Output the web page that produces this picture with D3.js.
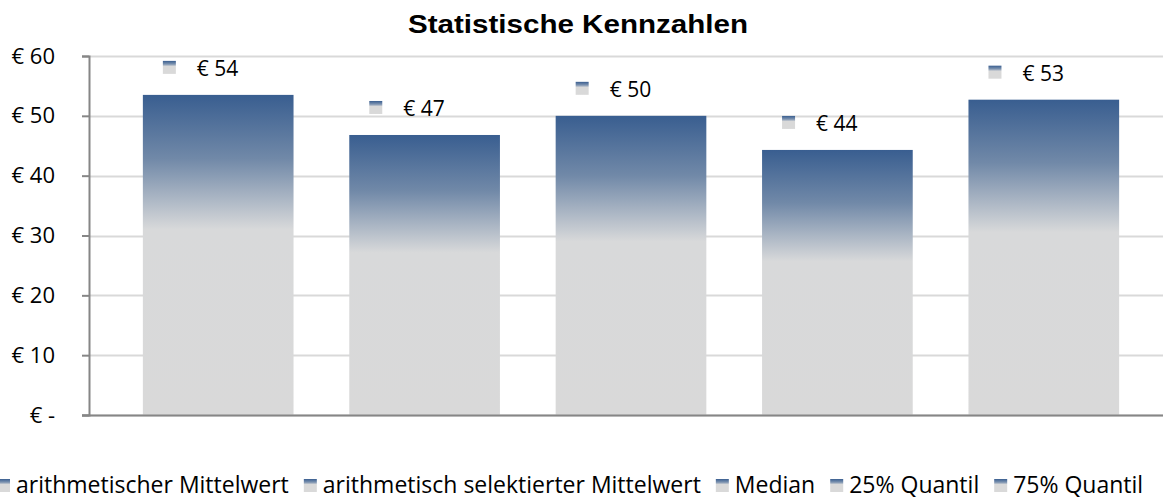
<!DOCTYPE html>
<html>
<head>
<meta charset="utf-8">
<script src="https://cdn.jsdelivr.net/npm/d3@7"></script>
<style>
  body { margin: 0; background: #fff; overflow: hidden; }
  text { font-family: "Open Sans", sans-serif; fill: #000; }
  text.title { font-family: "Liberation Sans", Arial, sans-serif; }
</style>
</head>
<body>
<div id="chart"></div>
<script>
var width = 1163;
var height = 499;

// data
var series = ["arithmetischer Mittelwert", "arithmetisch selektierter Mittelwert", "Median", "25% Quantil", "75% Quantil"];
var values = [53.5, 46.8, 50.0, 44.3, 52.7];
var labels = ["€ 54", "€ 47", "€ 50", "€ 44", "€ 53"];
var yTicks = [0, 10, 20, 30, 40, 50, 60];
var yTickLabels = ["€ -", "€ 10", "€ 20", "€ 30", "€ 40", "€ 50", "€ 60"];

var margin = {top: 56, left: 89, bottom: 84};

var svg = d3.select("#chart")
    .append("svg")
    .attr("width", width)
    .attr("height", height);

var defs = svg.append("defs");
var grad = defs.append("linearGradient")
    .attr("id", "barGrad")
    .attr("x1", 0).attr("y1", 0).attr("x2", 0).attr("y2", 1);
grad.append("stop").attr("offset", "0").attr("stop-color", "#395e90");
grad.append("stop").attr("offset", "0.2").attr("stop-color", "#7189a8");
grad.append("stop").attr("offset", "0.42").attr("stop-color", "#d8d9da");
grad.append("stop").attr("offset", "1").attr("stop-color", "#d9d9d9");

var keyGrad = defs.append("linearGradient")
    .attr("id", "keyGrad")
    .attr("x1", 0).attr("y1", 0).attr("x2", 0).attr("y2", 1);
keyGrad.append("stop").attr("offset", "0").attr("stop-color", "#395e90");
keyGrad.append("stop").attr("offset", "0.25").attr("stop-color", "#7d93b0");
keyGrad.append("stop").attr("offset", "0.42").attr("stop-color", "#d9d9d9");
keyGrad.append("stop").attr("offset", "1").attr("stop-color", "#d9d9d9");

var y = d3.scaleLinear()
    .domain([0, 60])
    .range([height - margin.bottom, margin.top]);

var x = d3.scaleBand()
    .domain(series)
    .range([115, 1147])
    .paddingInner(0.27)
    .paddingOuter(0.135);

// gridlines
svg.append("g")
    .selectAll("line")
    .data(yTicks)
    .enter().append("line")
      .attr("x1", margin.left)
      .attr("x2", width)
      .attr("y1", function(d) { return Math.round(y(d)) + 0.5; })
      .attr("y2", function(d) { return Math.round(y(d)) + 0.5; })
      .attr("stroke", "#d9d9d9")
      .attr("stroke-width", 2);

// y axis
var yAxis = d3.axisLeft(y)
    .tickValues(yTicks)
    .tickSize(7)
    .tickPadding(27)
    .tickFormat(function(d, i) { return yTickLabels[i]; });

var gy = svg.append("g")
    .attr("transform", "translate(" + margin.left + ",0)")
    .call(yAxis);
gy.select(".domain").attr("stroke", "#868686").attr("stroke-width", 2);
gy.selectAll(".tick line").attr("stroke", "#868686").attr("stroke-width", 2);
gy.selectAll(".tick text")
    .attr("font-size", 22)
    .attr("font-family", "Open Sans, sans-serif")
    .attr("fill", "#000");

// bars
svg.append("g")
    .selectAll("rect")
    .data(values)
    .enter().append("rect")
      .attr("x", function(d, i) { return x(series[i]); })
      .attr("y", function(d) { return y(d); })
      .attr("width", x.bandwidth())
      .attr("height", function(d) { return y(0) - y(d); })
      .attr("fill", "url(#barGrad)");

// baseline over bars
svg.append("line")
    .attr("x1", margin.left - 7)
    .attr("x2", width)
    .attr("y1", y(0) + 0.5)
    .attr("y2", y(0) + 0.5)
    .attr("stroke", "#868686")
    .attr("stroke-width", 2);

// data labels with legend key
var lab = svg.append("g")
    .selectAll("g")
    .data(values)
    .enter().append("g")
      .attr("transform", function(d, i) { return "translate(" + (x(series[i]) + 20) + "," + (y(d) - 27) + ")"; });

lab.append("rect")
    .attr("x", 0)
    .attr("y", -7)
    .attr("width", 13)
    .attr("height", 13)
    .attr("fill", "url(#keyGrad)");

lab.append("text")
    .attr("x", 34)
    .attr("y", 8)
    .attr("font-size", 21)
    .text(function(d, i) { return labels[i]; });

// title
svg.append("text")
    .attr("class", "title")
    .attr("x", 408)
    .attr("y", 33)
    .attr("font-size", 25)
    .attr("font-weight", "bold")
    .attr("textLength", 340)
    .attr("lengthAdjust", "spacingAndGlyphs")
    .text("Statistische Kennzahlen");

// legend along the bottom
var legend = svg.append("g").attr("transform", "translate(-3,485)");
var lx = 0;
series.forEach(function(s) {
  var item = legend.append("g").attr("transform", "translate(" + lx + ",0)");
  item.append("rect")
      .attr("x", 0)
      .attr("y", -6)
      .attr("width", 13)
      .attr("height", 13)
      .attr("fill", "url(#keyGrad)");
  var t = item.append("text")
      .attr("x", 19)
      .attr("y", 8)
      .attr("font-size", 23)
      .text(s);
  lx += 19 + t.node().getComputedTextLength() + 15;
});
</script>
</body>
</html>
